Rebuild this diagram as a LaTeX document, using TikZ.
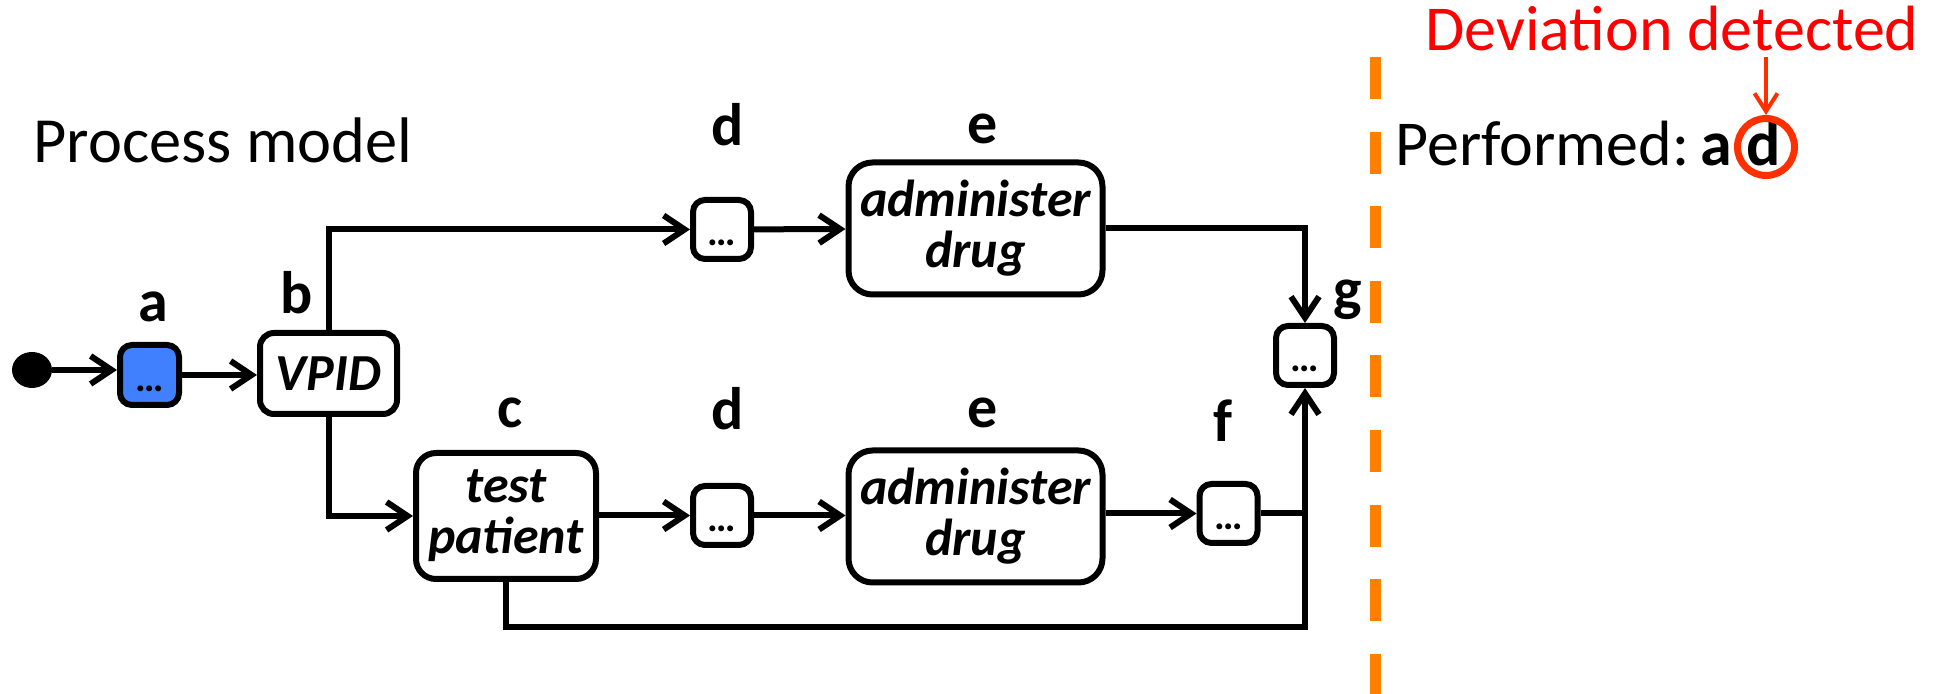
\documentclass[tikz,border=0pt]{standalone}
\usepackage{fontspec}
\setmainfont{Carlito}
\usetikzlibrary{arrows.meta,shapes.geometric}
\definecolor{taskblue}{RGB}{64,128,255}
\definecolor{sepor}{RGB}{255,128,0}
\definecolor{devred}{RGB}{255,0,0}
\definecolor{markred}{RGB}{255,48,0}
% three bold dots sitting low inside a small activity box
\newcommand\taskdots{\raisebox{-8.2pt}[0pt][0pt]{\fontsize{20}{20}\selectfont\bfseries …}}
\begin{document}
\begin{tikzpicture}[x=0.5pt,y=-0.5pt,
  conn/.style={line width=3pt},
  arr/.style={line width=3pt,-{Straight Barb[length=10.5pt,width=14pt]}},
  task/.style={draw,line width=3pt,fill=white,align=center,inner sep=0pt,
    font=\fontsize{26}{25.5}\selectfont\bfseries\itshape},
  smallbox/.style={draw,line width=3pt,fill=white,minimum width=29pt,
    minimum height=29.5pt,rounded corners=6pt,inner sep=0pt},
  lbl/.style={font=\fontsize{30}{36}\selectfont\bfseries,anchor=base,inner sep=0pt},
  plain/.style={font=\fontsize{32}{38}\selectfont,anchor=base west,inner sep=0pt},
]
\useasboundingbox (0,0) rectangle (1940,694);
\fill[white] (0,0) rectangle (1940,694);

% heading
\node[plain,font=\fontsize{32.2}{38}\selectfont] (pm) at (33,163) {Process model};

% activities
\node[fill=black,ellipse,minimum width=20pt,minimum height=18pt,inner sep=0pt] (start) at (32,370) {};
\node[smallbox,fill=taskblue,minimum width=29.5pt,minimum height=30pt] (a) at (149.5,375) {\taskdots};
\node[task,minimum width=68.5pt,minimum height=40.5pt,rounded corners=7pt] (b) at (328.5,373.5) {VPID};
\node[smallbox] (d1) at (722,229.5) {\taskdots};
\node[task,minimum width=127pt,minimum height=66pt,rounded corners=12pt] (e1) at (975.5,228.5) {administer\\drug};
\node[smallbox] (g) at (1305,355.5) {\taskdots};
\node[task,minimum width=90pt,minimum height=63pt,rounded corners=10pt] (c) at (506,516) {test\\patient};
\node[smallbox] (d2) at (722,515.5) {\taskdots};
\node[task,minimum width=127pt,minimum height=66pt,rounded corners=12pt] (e2) at (975.5,516.5) {administer\\drug};
\node[smallbox] (f) at (1228.5,513.5) {\taskdots};

% activity letters
\node[lbl] (la) at (153,322) {a};
\node[lbl] (lb) at (297,314) {b};
\node[lbl] (ld1) at (728,146) {d};
\node[lbl] (le1) at (983,144) {e};
\node[lbl,anchor=center] (lg) at (1348,300) {g};
\node[lbl] (lc) at (510,428) {c};
\node[lbl] (ld2) at (728,430) {d};
\node[lbl] (le2) at (983,428) {e};
\node[lbl] (lf) at (1223,442) {f};

% control flow
\coordinate (jb) at (1305,627);
\draw[arr] (start.east) -- (start.east -| a.west);
\draw[arr] (a.east) -- (a.east -| b.west);
\draw[arr] (b.north) |- (d1.west);
\draw[arr] (d1) -- (e1);
\draw[arr] (e1.east) -| (g.north);
\draw[arr] (b.south) |- (c.west);
\draw[arr] (c.east |- d2) -- (d2.west);
\draw[arr] (d2.east) -- (d2.east -| e2.west);
\draw[arr] (e2.east |- f) -- (f.west);
\draw[conn] (f.east) -- (f.east -| jb);
\draw[arr] (c.south) |- (jb) -- (g.south);

% separator
\draw[sepor,line width=5.3pt,dash pattern=on 21pt off 16.3pt] (1375.5,57) -- (1375.5,694);

% observed trace
\node[plain] (perf) at (1395,166) {Performed:};
\node[plain,font=\fontsize{32}{38}\selectfont\bfseries] (trace) at (1700,166) {a d};
\node[draw=markred,line width=3.5pt,circle,minimum size=28.5pt,inner sep=0pt] (mark) at (1766,147) {};
\node[plain,text=devred] (dev) at (1425,51) {Deviation detected};
\coordinate (devfoot) at (1766,57);
\draw[markred,line width=2pt,-{Straight Barb[length=9pt,width=11.5pt]}] (devfoot) -- (mark.north);
\end{tikzpicture}
\end{document}
